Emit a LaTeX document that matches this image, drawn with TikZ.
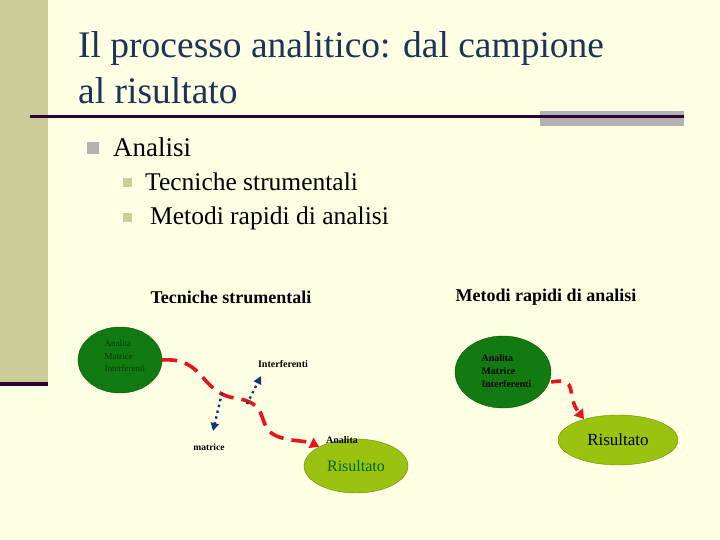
\documentclass[tikz,border=0pt]{standalone}
\usepackage{fontspec}
\setmainfont{Liberation Serif}
\usetikzlibrary{arrows.meta,positioning,shapes.geometric}
\definecolor{slidebg}{HTML}{FFFFE3}
\definecolor{sidebar}{HTML}{CCCC99}
\definecolor{rulecol}{HTML}{330033}
\definecolor{titlecol}{HTML}{1C3557}
\definecolor{darkgreen}{HTML}{117A11}
\definecolor{limegreen}{HTML}{99C30F}
\definecolor{arrowred}{HTML}{E8141B}
\definecolor{arrowblue}{HTML}{0A3C6E}

\begin{document}
\begin{tikzpicture}[
    x=1pt, y=-1pt,
    blob/.style={
        ellipse,
        fill=darkgreen,
        draw=darkgreen!70!black,
        inner sep=0pt,
    },
    resultblob/.style={
        ellipse,
        fill=limegreen,
        draw=limegreen!70!black,
        inner sep=0pt,
        font=\fontsize{16}{18}\selectfont,
    },
    flow/.style={-{Triangle[length=9pt,width=11pt]}, arrowred, line width=3.6pt, dash pattern=on 15pt off 8pt},
    split/.style={-{Triangle[length=8pt,width=8pt]}, arrowblue, line width=2.4pt, dash pattern=on 2.4pt off 3.6pt},
    mylabel/.style={font=\fontsize{10}{12}\selectfont\bfseries},
    bulletsq/.style={minimum size=#1, inner sep=0pt},
    ]

    % slide background
    \fill[slidebg] (0,0) rectangle (720,540);
    \useasboundingbox (0,0) rectangle (720,540);
    \fill[sidebar] (0,0) rectangle (48,382);
    \fill[rulecol] (0,382) rectangle (48,386);
    \fill[black!30] (540,111) rectangle (684,126);
    \fill[rulecol] (30,115.5) rectangle (684,118.5);

    % title
    \node[anchor=base west, inner sep=0pt, text=titlecol, font=\fontsize{37.5}{40}\selectfont] (title) at (78,58)
        {Il processo analitico: dal campione};
    \node[anchor=base west, inner sep=0pt, text=titlecol, font=\fontsize{37.5}{40}\selectfont] (title2) at (78,104) {al risultato};

    % bullets
    \node[bulletsq=12pt, fill=black!30] (b0) at (93,148) {};
    \node[anchor=base west, inner sep=0pt, font=\fontsize{27}{30}\selectfont] (analisi) at (113,157) {Analisi};
    \node[bulletsq=9pt, fill=sidebar] (b1) at (127,183) {};
    \node[anchor=base west, inner sep=0pt, font=\fontsize{25.5}{28}\selectfont] (tec) at (145,191) {Tecniche strumentali};
    \node[bulletsq=9pt, fill=sidebar] (b2) at (127,218) {};
    \node[anchor=base west, inner sep=0pt, font=\fontsize{25.5}{28}\selectfont] (met) at (150,225) {Metodi rapidi di analisi};

    % headings
    \node[font=\fontsize{18}{20}\selectfont\bfseries] (headL) at (231,297) {Tecniche strumentali};
    \node[font=\fontsize{18}{20}\selectfont\bfseries] (headR) at (546,297) {Metodi rapidi di analisi};

    % left: strumentali
    \node[blob, minimum width=84pt, minimum height=66pt] (campL) at (120,360) {};
    \node[anchor=west, align=left, text=green!25!black, font=\fontsize{9}{12.5}\selectfont] (campLtxt) at (101,356)
        {Analita\\Matrice\\Interferenti};
    \node[resultblob, minimum width=104pt, minimum height=54pt, text=green!40!black] (risL) at (356,466) {Risultato};
    \coordinate (sep1) at (222,393);
    \coordinate (sep2) at (247,404);
    \node[mylabel] (interf) at (283,364) {Interferenti};
    \node[mylabel, font=\fontsize{9.5}{12}\selectfont\bfseries] (matr) at (209,447) {matrice};
    \node[mylabel] (anal) at (342,440) {Analita};

    \draw[flow] (campL.east) .. controls (205,357) and (200,393) .. (235,398)
        .. controls (268,403) and (258,420) .. (270,432)
        .. controls (282,442) and (305,440) .. (risL.north west);
    \draw[split] (sep1) -- (213,431);
    \draw[split] (sep2) -- (261,376);

    % right: rapidi
    \node[blob, minimum width=96pt, minimum height=72pt] (campR) at (503,372) {};
    \node[anchor=west, align=left, font=\fontsize{10}{13}\selectfont\bfseries] (campRtxt) at (478,371)
        {Analita\\Matrice\\Interferenti};
    \node[resultblob, minimum width=120pt, minimum height=50pt, font=\fontsize{17}{19}\selectfont] (risR) at (618,440) {Risultato};

    \draw[flow, dash pattern=on 10pt off 8pt] (campR.east) ++(0,10) .. controls (580,377) and (565,395) .. (584,419);
\end{tikzpicture}
\end{document}
